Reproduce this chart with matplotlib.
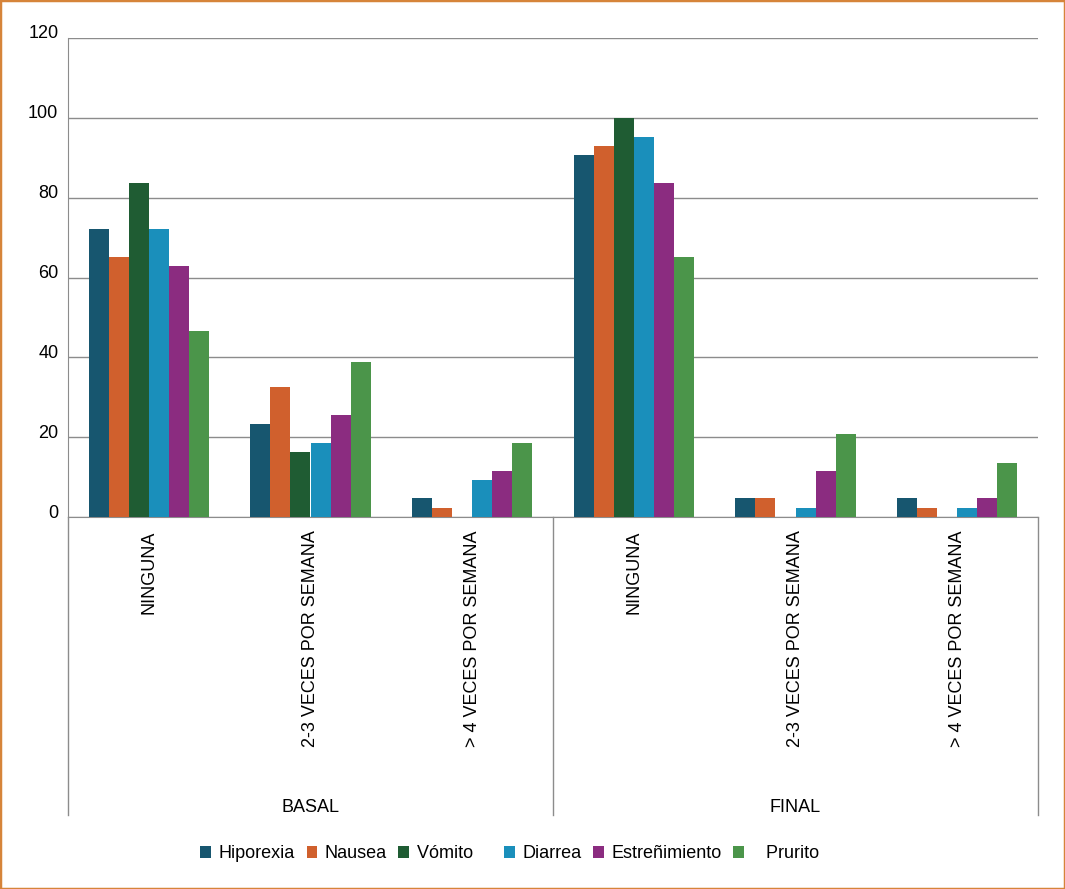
import matplotlib
matplotlib.use('Agg')
from matplotlib import pyplot as plt
from matplotlib.patches import Rectangle
from matplotlib.transforms import ScaledTranslation
import numpy as np

plt.rcParams['font.family'] = ['Liberation Sans', 'DejaVu Sans']

# data (percent)
categories = ['NINGUNA', '2-3 VECES POR SEMANA', '> 4 VECES POR SEMANA',
              'NINGUNA', '2-3 VECES POR SEMANA', '> 4 VECES POR SEMANA']
groups = ['BASAL', 'FINAL']
# series names keep the odd spacing seen in the original legend
series = ['Hiporexia', 'Nausea', 'Vómito    ', 'Diarrea', 'Estreñimiento', '   Prurito']

hiporexia = [72.1, 23.3, 4.7, 90.7, 4.7, 4.7]
nausea = [65.1, 32.6, 2.3, 93.0, 4.7, 2.3]
vomito = [83.7, 16.3, 0, 100.0, 0, 0]
diarrea = [72.1, 18.6, 9.3, 95.3, 2.3, 2.3]
estrenimiento = [62.8, 25.6, 11.6, 83.7, 11.6, 4.7]
prurito = [46.5, 38.8, 18.6, 65.1, 20.9, 13.6]

values = [hiporexia, nausea, vomito, diarrea, estrenimiento, prurito]
colors = ['#17566F', '#D0602D', '#1F5C33', '#1A8FBB', '#8B2C80', '#4B954A']

grey = '#8C8C8C'

fig = plt.figure(figsize=(10.65, 8.89), dpi=100)
ax = fig.add_axes([68/1065, 1 - 517/889, (1038 - 68)/1065, (517 - 38)/889])

x = np.arange(len(categories))
w = 0.124
for i, (name, vals, c) in enumerate(zip(series, values, colors)):
    ax.bar(x + (i - 2.5) * w, vals, width=w, color=c, label=name, zorder=3)

ax.set_xlim(-0.5, len(categories) - 0.5)
ax.set_ylim(0, 120)
ax.set_yticks(range(0, 121, 20))
ax.yaxis.grid(True, color=grey, lw=1)
ax.set_axisbelow(True)
ax.tick_params(axis='y', length=0, pad=7, labelsize=13)
off = ScaledTranslation(0, 6/100, fig.dpi_scale_trans)
for lab in ax.get_yticklabels():
    lab.set_transform(lab.get_transform() + off)

ax.set_xticks(x)
ax.set_xticklabels(categories, rotation=90, va='top', fontsize=13)
ax.tick_params(axis='x', length=0, pad=9.5)

for s in ['top', 'right']:
    ax.spines[s].set_visible(False)
ax.spines['left'].set_color(grey)
ax.spines['bottom'].set_color(grey)

# group separators and labels under the category axis
low = -(815 - 517) / (517 - 38)
trans = ax.get_xaxis_transform()
for xs in [-0.5, 2.5, 5.5]:
    ax.plot([xs, xs], [0, low], transform=trans, color=grey, lw=1, clip_on=False)
for gi, g in enumerate(groups):
    ax.text(gi * 3 + 1, -(807 - 517) / (517 - 38), g, transform=trans,
            ha='center', va='center', fontsize=13)

fig.legend(loc='center', bbox_to_anchor=(510/1065, 1 - 854/889), ncol=6,
           frameon=False, handlelength=0.6, handleheight=0.6, handletextpad=0.4,
           columnspacing=0.65, fontsize=13)

fig.patches.append(Rectangle((0, 0), 1, 1, transform=fig.transFigure, fill=False,
                             edgecolor='#D6843A', lw=2.5))

fig.savefig('out.png', dpi=100)
